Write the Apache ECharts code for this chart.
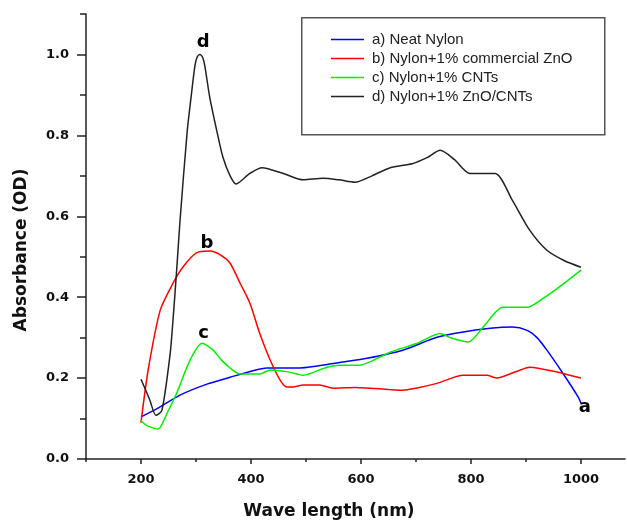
<!DOCTYPE html>
<html>
<head>
<meta charset="utf-8">
<script src="https://cdn.jsdelivr.net/npm/echarts@6/dist/echarts.min.js"></script>
<style>
html,body{margin:0;padding:0;background:#fff;}
#chart{width:627px;height:526px;}
</style>
</head>
<body>
<div id="chart"></div>
<script>
// ---- data ----
const seriesNames = ['a) Neat Nylon', 'b) Nylon+1% commercial ZnO', 'c) Nylon+1% CNTs', 'd) Nylon+1% ZnO/CNTs'];

const aX = [200,230,271,320,362,400,429,489,567,611,676,738,786,835,875,902,920,938,967,995,1000];
const aY = [0.104,0.125,0.158,0.185,0.202,0.217,0.225,0.225,0.24,0.249,0.269,0.301,0.314,0.323,0.326,0.318,0.3,0.269,0.212,0.153,0.138];

const bX = [200,213,235,258,276,300,325,345,362,380,398,416,435,453,465,476,495,525,549,590,616,650,676,700,738,786,829,847,880,907,956,1000];
const bY = [0.09,0.22,0.368,0.434,0.474,0.509,0.514,0.504,0.484,0.435,0.385,0.31,0.244,0.195,0.178,0.178,0.183,0.183,0.175,0.177,0.175,0.172,0.17,0.175,0.187,0.207,0.207,0.2,0.215,0.227,0.215,0.2];

const cX = [200,204,215,231,248,265,289,311,331,346,362,380,416,435,465,484,495,538,562,598,616,653,702,744,762,795,822,858,902,931,965,1000];
const cY = [0.096,0.089,0.08,0.074,0.115,0.163,0.244,0.286,0.269,0.245,0.225,0.21,0.21,0.22,0.216,0.21,0.207,0.227,0.232,0.232,0.24,0.264,0.286,0.31,0.3,0.289,0.326,0.375,0.375,0.397,0.43,0.467];

const dX = [200,216,227,238,253,258,265,271,284,291,298,302,307,312,316,325,338,349,362,373,398,420,460,495,531,560,589,620,653,693,720,744,770,798,844,875,907,938,970,1000];
const dY = [0.197,0.146,0.108,0.12,0.26,0.34,0.47,0.59,0.81,0.894,0.972,0.993,1.0,0.993,0.972,0.894,0.81,0.746,0.70,0.68,0.706,0.72,0.705,0.69,0.694,0.69,0.684,0.70,0.72,0.73,0.745,0.763,0.74,0.706,0.706,0.64,0.565,0.516,0.49,0.474];

const curveLetters = ['a','b','c','d'];
const letterX = [1007, 320, 314, 313];
const letterY = [0.128, 0.533, 0.311, 1.03];

const xMajorTicks = [200,400,600,800,1000];
const xMinorTicks = [100,300,500,700,900];
const yMajorTicks = [0,0.2,0.4,0.6,0.8,1.0];
const yMinorTicks = [0.1,0.3,0.5,0.7,0.9,1.1];

const xLabel = 'Wave length (nm)';
const yLabel = 'Absorbance (OD)';
// ---- end data ----

const colors = ['#0000ff', '#ff0000', '#00ee00', '#222222'];
const pairs = (xs, ys) => xs.map((x, i) => [x, ys[i]]);
const allX = [aX, bX, cX, dX];
const allY = [aY, bY, cY, dY];

const axisColor = '#222';
const tickFont = {fontFamily: 'DejaVu Sans', fontWeight: 'bold', fontSize: 13, color: '#111'};
const lineIcon = 'path://M0,0 L33,0 L33,1.5 L0,1.5 Z';

const chart = echarts.init(document.getElementById('chart'), null, {renderer: 'canvas'});

const series = seriesNames.map((name, i) => ({
  name: name,
  type: 'line',
  xAxisIndex: 0,
  yAxisIndex: 0,
  data: pairs(allX[i], allY[i]),
  symbol: 'none',
  smooth: 0.25,
  lineStyle: {color: colors[i], width: 1.5},
  itemStyle: {color: colors[i]},
  z: i === 3 ? 3 : 2
}));

const baseGraphic = [
  {
    type: 'rect', left: 301, top: 17, z: 0,
    shape: {width: 303, height: 117},
    style: {fill: '#fff', stroke: '#555', lineWidth: 1.5}
  },
  {
    type: 'text', x: 329, y: 512,
    style: {text: xLabel, fill: '#111', font: 'bold 17px "DejaVu Sans"', textAlign: 'center', textVerticalAlign: 'middle'}
  },
  {
    type: 'text', x: 22, y: 250, rotation: Math.PI / 2,
    style: {text: yLabel, fill: '#111', font: 'bold 17px "DejaVu Sans"', textAlign: 'center', textVerticalAlign: 'middle'}
  }
];

const option = {
  animation: false,
  backgroundColor: '#fff',
  grid: {left: 86, right: 2, top: 14, bottom: 67, containLabel: false},
  xAxis: [
    {
      type: 'value', min: 100, max: 1080,
      axisLine: {show: true, lineStyle: {color: axisColor, width: 1.5}},
      axisTick: {show: true, customValues: xMinorTicks, length: 3, lineStyle: {color: axisColor, width: 1.5}},
      axisLabel: {show: true, customValues: xMajorTicks, margin: 14, formatter: v => String(v), ...tickFont},
      splitLine: {show: false}
    },
    {
      type: 'value', min: 100, max: 1080, position: 'bottom',
      axisLine: {show: false},
      axisTick: {show: true, customValues: xMajorTicks, length: 5, lineStyle: {color: axisColor, width: 1.5}},
      axisLabel: {show: false},
      splitLine: {show: false}
    }
  ],
  yAxis: [
    {
      type: 'value', min: 0, max: 1.1,
      axisLine: {show: true, lineStyle: {color: axisColor, width: 1.5}},
      axisTick: {show: true, customValues: yMajorTicks, length: 9, lineStyle: {color: axisColor, width: 1.5}},
      axisLabel: {show: true, customValues: yMajorTicks, margin: 17, formatter: v => v.toFixed(1), ...tickFont},
      splitLine: {show: false}
    },
    {
      type: 'value', min: 0, max: 1.1, position: 'left',
      axisLine: {show: false},
      axisTick: {show: true, customValues: yMinorTicks, length: 6, lineStyle: {color: axisColor, width: 1.5}},
      axisLabel: {show: false},
      splitLine: {show: false}
    }
  ],
  legend: {
    data: seriesNames.map((n, i) => ({name: n, icon: lineIcon, itemStyle: {color: colors[i]}})),
    orient: 'vertical',
    left: 331,
    top: 32,
    padding: 0,
    itemWidth: 33,
    itemHeight: 14,
    itemGap: 4,
    textStyle: {fontFamily: 'Liberation Sans', fontSize: 15, color: '#222', padding: [0,0,0,3]}
  },
  graphic: baseGraphic,
  series: series
};

chart.setOption(option);

// curve letters placed through the chart's own scales
const letterGraphics = curveLetters.map((t, i) => {
  const p = chart.convertToPixel({xAxisIndex: 0, yAxisIndex: 0}, [letterX[i], letterY[i]]);
  return {
    type: 'text', x: p[0], y: p[1], z: 10,
    style: {text: t, fill: '#000', font: 'bold 18px "DejaVu Sans"', textAlign: 'center', textVerticalAlign: 'middle'}
  };
});
chart.setOption({graphic: baseGraphic.concat(letterGraphics)});
</script>
</body>
</html>
